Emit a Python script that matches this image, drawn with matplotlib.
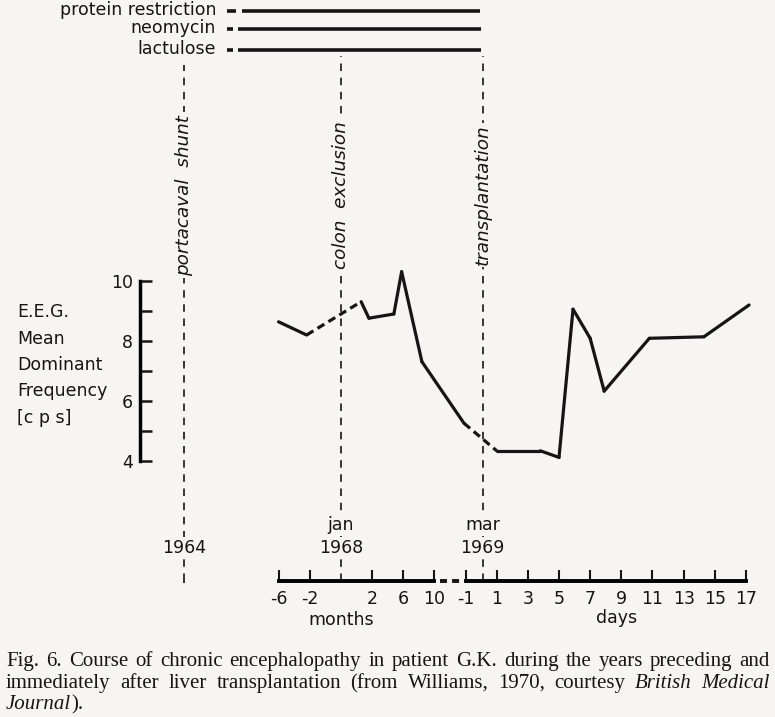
import numpy as np
import matplotlib
matplotlib.use('Agg')
import matplotlib.pyplot as plt

# E.E.G. mean dominant frequency axis
eeg_ticks = [4, 5, 6, 7, 8, 9, 10]
eeg_ticklabels = ['4', '', '6', '', '8', '', '10']

# months relative to jan 1968 (the month scale of the original is not linear)
month_marks = [-6, -2, 0, 2, 6, 10]
month_slots = [-13, -11, -9, -7, -5, -3]   # place of each mark on the time line
month_ticks = [-6, -2, 2, 6, 10]
day_ticks = [-1, 1, 3, 5, 7, 9, 11, 13, 15, 17]

# the curve: before transplantation in months, after in days
pre_months = [-6, -2.4, 1.3, 1.8, 4.8, 5.8, 8.4]
pre_eeg = [8.63, 8.19, 9.3, 8.75, 8.89, 10.3, 7.3]
post_days = [-1.1, 1, 3.8, 5, 5.9, 7, 7.9, 10.8, 14.3, 17.2]
post_eeg = [5.25, 4.33, 4.33, 4.11, 9.05, 8.08, 6.32, 8.08, 8.13, 9.19]
seg_dashed = [False, True, False, False, False, False, False, True,
              False, False, False, False, False, False, False, False]

events = ['portacaval  shunt', 'colon  exclusion', 'transplantation']
event_x = [-19.05, -9.0, 0.1]
event_dates = [('', '1964'), ('jan', '1968'), ('mar', '1969')]

treatments = ['protein restriction', 'neomycin', 'lactulose']
treat_first = [-16.3, -16.3, -16.3]
treat_dash_end = [-15.71, -15.9, -15.94]
treat_start = [-15.34, -15.6, -15.6]
treat_end = [-0.07, 0.0, 0.0]

BG = '#f6f5f1'
INK = '#151515'
SANS = 'DejaVu Sans'
SERIF = 'Liberation Serif'
FS = 12.5

# page layout: pixel of day 0, pixels per day, pixel of 10 cps, pixels per cps
X0, XS, Y10, YS = 481.1, 15.58, 280.7, 30.0
def px(x):
    return (x - X0) / XS
def py(y):
    return 10 - (y - Y10) / YS

fig = plt.figure(figsize=(7.75, 7.17), dpi=100, facecolor=BG)
ax = fig.add_axes([0, 0, 1, 1])
axm = fig.add_axes([0, 0, 1, 1])
for a in (ax, axm):
    a.set_xlim(px(0), px(775))
    a.set_ylim(py(717), py(0))
    a.patch.set_visible(False)
    a.spines['top'].set_visible(False)
    a.spines['right'].set_visible(False)

# y axis and day axis
ax.spines['left'].set_position(('data', px(140)))
ax.spines['left'].set_bounds(4, 10)
ax.spines['left'].set_linewidth(2.5)
ax.spines['bottom'].set_position(('data', 0))
ax.spines['bottom'].set_bounds(day_ticks[0], day_ticks[-1])
ax.spines['bottom'].set_linewidth(2.8)
ax.set_yticks(eeg_ticks)
ax.set_yticklabels(eeg_ticklabels)
ax.set_xticks(day_ticks)
ax.set_xticklabels([str(d) for d in day_ticks])
ax.tick_params(axis='y', direction='in', length=8.5, width=1.8, pad=5,
               labelsize=FS, colors=INK)
ax.tick_params(axis='x', direction='in', length=8, width=1.5, pad=7,
               labelsize=FS, colors=INK)

# month axis
axm.spines['left'].set_visible(False)
axm.spines['bottom'].set_position(('data', 0))
axm.spines['bottom'].set_bounds(month_slots[0], month_slots[-1])
axm.spines['bottom'].set_linewidth(2.8)
axm.set_yticks([])
axm.set_xticks(np.interp(month_ticks, month_marks, month_slots))
axm.set_xticklabels([str(m) for m in month_ticks])
axm.tick_params(axis='x', direction='in', length=8, width=1.5, pad=7,
                labelsize=FS, colors=INK)
for lab in ax.get_xticklabels() + axm.get_xticklabels() + ax.get_yticklabels():
    lab.set_family(SANS)

# break in the time axis
ax.plot([px(440), px(460)], [0, 0], color=INK, lw=2.8, dashes=(1.8, 1.3),
        solid_capstyle='butt')

# events
for name, x, (d1, d2) in zip(events, event_x, event_dates):
    top = py(65) if x < -15 else py(56)
    ax.plot([x, x], [0, top], color=INK, lw=1.2, dashes=(4.5, 4))
    ax.text(x, py(195), name, rotation=90, ha='center', va='center',
            fontsize=13.2, style='italic', family=SANS, color=INK,
            bbox=dict(fc=BG, ec='none', pad=1.5))
    ax.text(x, py(553), d2, ha='center', va='baseline', fontsize=FS,
            family=SANS, color=INK, bbox=dict(fc=BG, ec='none', pad=1.5))
    if d1:
        ax.text(x, py(530), d1, ha='center', va='baseline', fontsize=FS,
                family=SANS, color=INK, bbox=dict(fc=BG, ec='none', pad=1.5))
ax.plot([event_x[0], event_x[0]], [0, py(583)], color=INK, lw=1.2, dashes=(4.5, 4))

# treatments
treat_rows = [py(11), py(29), py(50)]
for name, yv, a0, a1, b0, b1 in zip(treatments, treat_rows, treat_first,
                                     treat_dash_end, treat_start, treat_end):
    ax.plot([a0, a1], [yv, yv], color=INK, lw=2.6, solid_capstyle='butt')
    ax.plot([b0, b1], [yv, yv], color=INK, lw=2.6, solid_capstyle='butt')
    ax.text(px(216), yv - 4 / YS, name, ha='right', va='baseline',
            fontsize=FS, family=SANS, color=INK)

# the E.E.G. curve
xs = np.concatenate([np.interp(pre_months, month_marks, month_slots), post_days])
ys = np.concatenate([pre_eeg, post_eeg])
for i, dashed in enumerate(seg_dashed):
    if dashed:
        ax.plot(xs[i:i + 2], ys[i:i + 2], color=INK, lw=2.3, dashes=(2.5, 1.5),
                solid_capstyle='round')
    else:
        ax.plot(xs[i:i + 2], ys[i:i + 2], color=INK, lw=2.3,
                solid_capstyle='round', solid_joinstyle='round')

# axis labels
ylabel_lines = ['E.E.G.', 'Mean', 'Dominant', 'Frequency', '[c p s]']
for k, line in enumerate(ylabel_lines):
    ax.text(px(17), py(317 + 26.5 * k), line, ha='left', va='baseline',
            fontsize=FS, family=SANS, color=INK)
ax.text(px(341), py(625), 'months', ha='center', va='baseline', fontsize=FS,
        family=SANS, color=INK)
ax.text(px(617), py(623), 'days', ha='center', va='baseline', fontsize=FS,
        family=SANS, color=INK)

# justified caption
caption = [
    ([('Fig. 6. Course of chronic encephalopathy in patient G.K. during the years preceding and', 'normal')], True),
    ([('immediately after liver transplantation (from Williams, 1970, courtesy', 'normal'),
      ('British Medical', 'italic')], True),
    ([('Journal', 'italic'), (').', 'normal+')], False),
]
baselines = [666, 688, 709]
renderer = fig.canvas.get_renderer()
CAP_FS = 15
left, right = 6, 770
for (parts, justify), base in zip(caption, baselines):
    words = []
    for txt, st in parts:
        if st == 'normal+':
            words.append((txt, 'normal', True))
            continue
        for w in txt.split():
            words.append((w, st, False))
    items = []
    for w, st, glue in words:
        t = fig.text(0, 1 - base / 717, w, fontsize=CAP_FS,
                     family=SERIF, style=st, color=INK, va='baseline')
        items.append((t, t.get_window_extent(renderer).width, glue))
    ngaps = sum(1 for _, _, g in items[1:] if not g)
    total = sum(w for _, w, _ in items)
    gap = (right - left - total) / ngaps if justify else 5
    x = left
    for k, (t, w, glue) in enumerate(items):
        if k > 0 and not glue:
            x += gap
        t.set_x(x / 775)
        x += w

fig.savefig('out.png', dpi=100, facecolor=BG)
